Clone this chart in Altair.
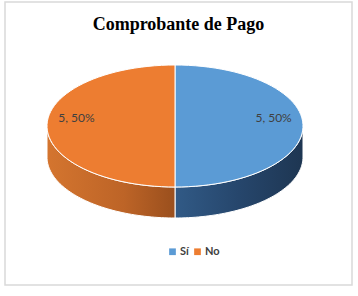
import altair as alt
import numpy as np
import pandas as pd

# ---- data ----
categories = ["Sí", "No"]
values = [5, 5]
top_colors = ["#5b9bd5", "#ed7d31"]

# ---- geometry (style sizes, in px) ----
RX, RY, DEPTH = 128, 61, 31
CX, CY = 170, 124          # pie centre relative to the view origin
LABEL_R = 0.77

total = sum(values)
shares = [v / total for v in values]
starts = np.cumsum([0] + shares[:-1]) * 360.0
ends = np.cumsum(shares) * 360.0


def pt(a, dy=0.0):
    r = np.radians(a)
    return [float(RX * np.sin(r)), float(-RY * np.cos(r) + dy)]


def arc(a0, a1, dy=0.0, n=60):
    return [pt(a, dy) for a in np.linspace(a0, a1, n)]


tops, sides, labels = [], [], []
for cat, v, s, a0, a1 in zip(categories, values, shares, starts, ends):
    ring = [[0.0, 0.0]] + arc(a0, a1) + [[0.0, 0.0]]
    tops.append({"type": "Feature", "properties": {"cat": cat},
                 "geometry": {"type": "Polygon", "coordinates": [ring]}})
    s0, s1 = max(a0, 90.0), min(a1, 270.0)
    if s1 > s0:
        upper = arc(s0, s1)
        lower = arc(s0, s1, DEPTH)[::-1]
        ring2 = upper + lower + [upper[0]]
        sides.append({"type": "Feature", "properties": {"cat": cat},
                      "geometry": {"type": "Polygon", "coordinates": [ring2]}})
    mid = (a0 + a1) / 2
    lx, ly = pt(mid)
    labels.append({"cat": cat, "lon": lx * LABEL_R, "lat": ly * LABEL_R,
                   "txt": f"{v}, {round(s * 100)}%"})

PROJ = dict(type="identity", scale=1, translate=[CX, CY])

side_grad = {
    "Sí": alt.Gradient(gradient="linear", x1=0, x2=1, y1=0, y2=0,
                       stops=[alt.GradientStop(offset=0, color="#315a86"),
                              alt.GradientStop(offset=0.5, color="#26466c"),
                              alt.GradientStop(offset=1, color="#1e3652")]),
    "No": alt.Gradient(gradient="linear", x1=0, x2=1, y1=0, y2=0,
                       stops=[alt.GradientStop(offset=0, color="#d4752f"),
                              alt.GradientStop(offset=0.6, color="#bd6427"),
                              alt.GradientStop(offset=1, color="#9a4f1d")]),
}

side_layers = [
    alt.Chart(alt.Data(values=[f])).mark_geoshape(
        fill=side_grad[f["properties"]["cat"]], stroke="white", strokeWidth=1
    ).project(**PROJ)
    for f in sides
]

top_layer = alt.Chart(alt.Data(values=tops)).mark_geoshape(
    stroke="white", strokeWidth=1
).encode(
    color=alt.Color(
        "properties.cat:N",
        scale=alt.Scale(domain=categories, range=top_colors),
        legend=alt.Legend(
            title=None, orient="none", direction="horizontal",
            legendX=162, legendY=244, symbolType="square", symbolSize=45,
            symbolStrokeWidth=0, labelFont="Lato", labelFontWeight="bold",
            labelFontSize=11, labelColor="#404040", columnPadding=3,
            labelOffset=2, padding=0,
        ),
    )
).project(**PROJ)

label_layer = alt.Chart(pd.DataFrame(labels)).mark_text(
    font="Lato", fontSize=12, color="#404040", dy=-8
).encode(
    longitude="lon:Q", latitude="lat:Q", text="txt:N"
).project(**PROJ)

chart = alt.layer(*side_layers, top_layer, label_layer).properties(
    width=347, height=283,
    padding={"left": 5, "top": 2, "right": 6, "bottom": 11},
    autosize=alt.AutoSizeParams(type="none"),
    view=alt.ViewBackground(stroke="#d9d9d9", strokeWidth=1.5, fill="white"),
    title=alt.TitleParams(
        "Comprobante de Pago", font="Liberation Serif", fontSize=18,
        fontWeight="bold", color="#000000", anchor="middle",
        baseline="top", offset=0, dy=32,
    ),
).configure(background="white")

chart.save("out.html", embed_options={"renderer": "svg", "actions": False})
